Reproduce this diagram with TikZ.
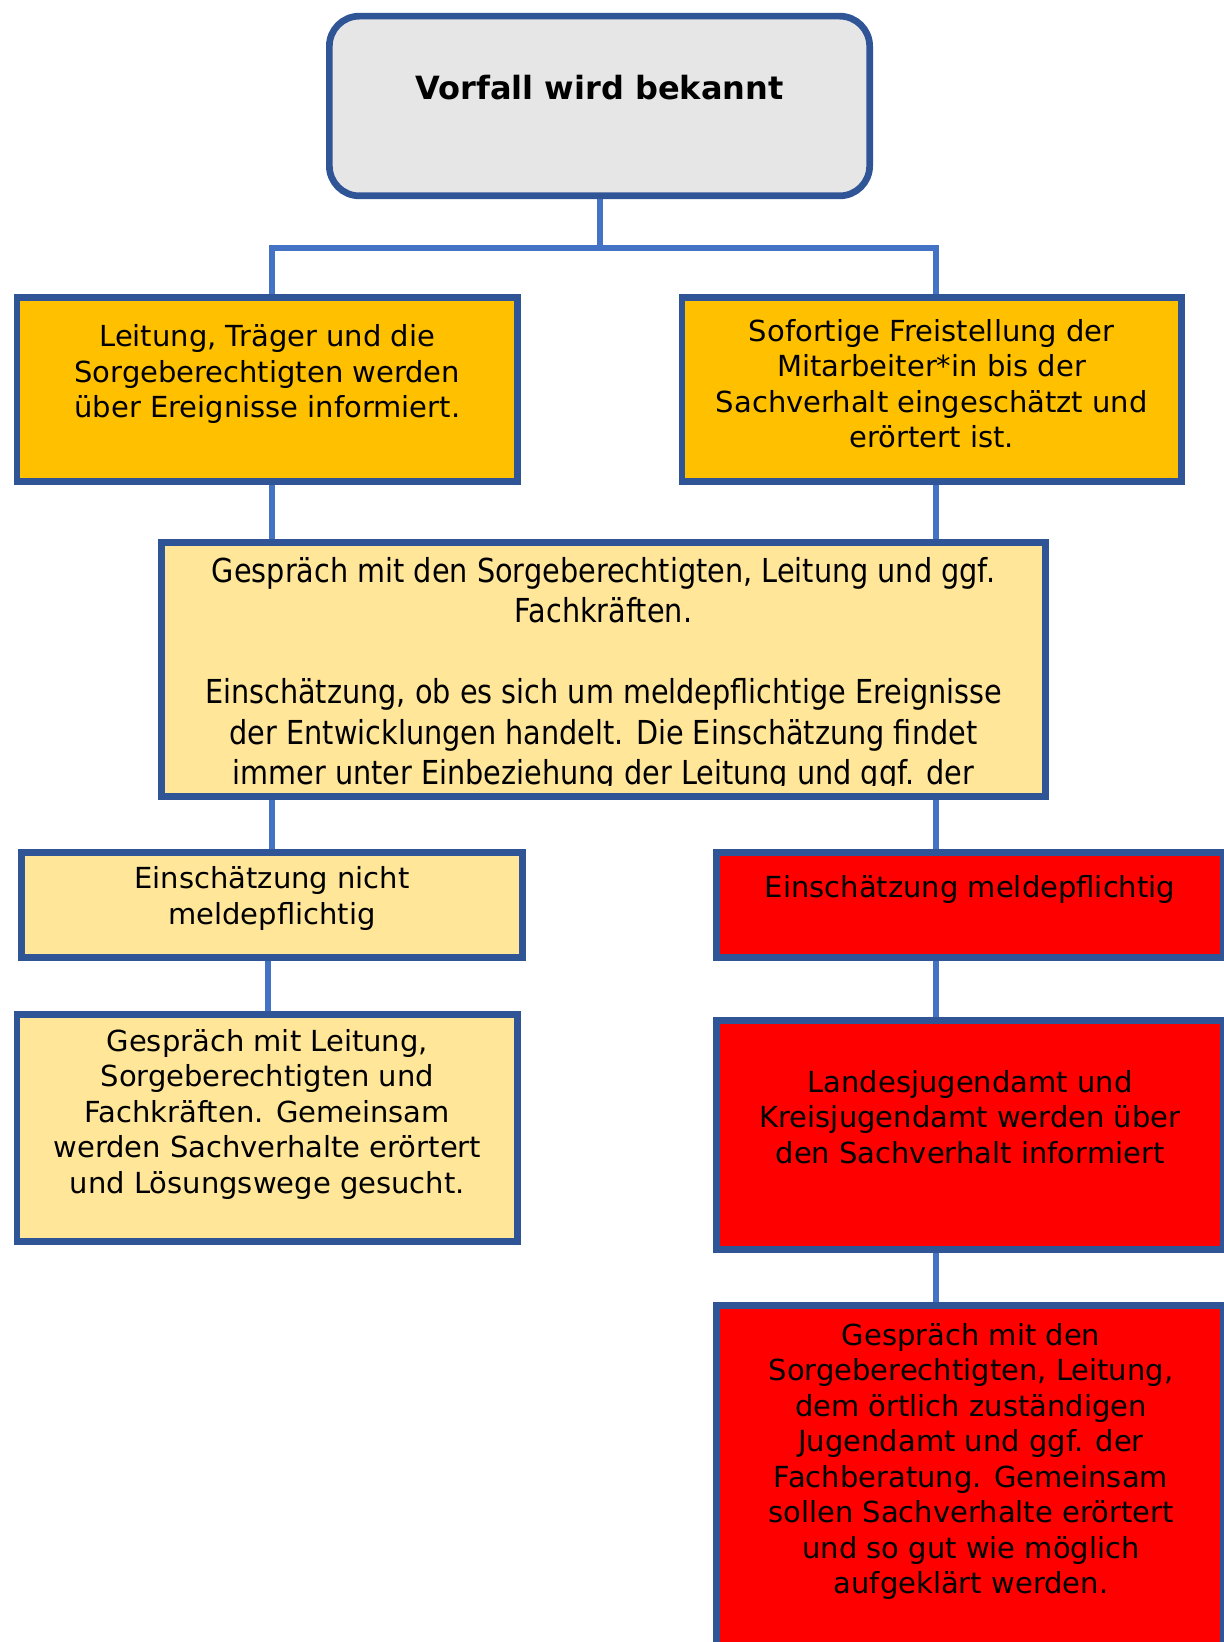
\documentclass[tikz,border=0pt]{standalone}
\usepackage{fontspec}
\setmainfont{DejaVu Sans}
\newfontfamily\condfont[FakeStretch=0.87]{DejaVu Sans}
\usetikzlibrary{calc,backgrounds}

\definecolor{frameblue}{HTML}{2F5597}
\definecolor{linkblue}{HTML}{4472C4}
\definecolor{greyfill}{HTML}{E7E6E6}
\definecolor{orangefill}{HTML}{FFC000}
\definecolor{sandfill}{HTML}{FFE699}
\definecolor{redfill}{HTML}{FF0000}

\begin{document}
\begin{tikzpicture}[x=0.5pt, y=-0.5pt,
		box/.style={draw=frameblue, line width=3.35pt, inner sep=0pt},
		link/.style={draw=linkblue, line width=3pt},
		txt/.style={align=center, inner sep=0pt, font=\fontsize{14.5}{17.75}\selectfont}]
			\useasboundingbox (0,0) rectangle (1223,1642);

			% boxes
			\node[box, fill=greyfill, rounded corners=15pt, minimum width=270.15pt, minimum height=89.85pt] (vorfall) at (599.5,106) {};
			\node[box, fill=orangefill, minimum width=250.35pt, minimum height=92.15pt] (leitung) at (267.3,389.5) {};
			\node[box, fill=orangefill, minimum width=249.9pt, minimum height=92.15pt] (freistellung) at (931.75,389.5) {};
			\node[box, fill=sandfill, minimum width=442.15pt, minimum height=127.15pt] (gespraech) at (603.5,669.5) {};
			\node[box, fill=sandfill, minimum width=250.65pt, minimum height=52.65pt] (nicht) at (272,905) {};
			\node[box, fill=sandfill, minimum width=250.35pt, minimum height=113.65pt] (loesung) at (267.3,1128) {};
			\node[box, fill=redfill, minimum width=253.5pt, minimum height=52.65pt] (melde) at (970,905) {};
			\node[box, fill=redfill, minimum width=253.5pt, minimum height=114.65pt] (jugendamt) at (970,1135) {};
			\node[box, fill=redfill, minimum width=253.5pt, minimum height=195.65pt] (beratung) at (970,1501) {};

			% texts
			\node[txt, font=\bfseries\fontsize{16}{19}\selectfont] (vorfalltxt) at ($(vorfall.center)+(0,-18)$) {Vorfall wird bekannt};
			\node[txt] (leitungtxt) at ($(leitung.center)+(0,-15.5)$) {Leitung, Träger und die\\ Sorgeberechtigten werden\\ über Ereignisse informiert.};
			\node[txt] (freistellungtxt) at ($(freistellung.center)+(0,-6)$) {Sofortige Freistellung der\\ Mitarbeiter*in bis der\\ Sachverhalt eingeschätzt und\\ erörtert ist.};
			\begin{scope}
				\clip ($(gespraech.south west)+(3.35,-15)$) rectangle ($(gespraech.north east)+(-3.35,3.35)$);
				\node[txt, anchor=north, font=\condfont\fontsize{16.5}{20.2}\selectfont] (gespraechtxt) at (603.5,557) {Gespräch mit den Sorgeberechtigten, Leitung und ggf.\\ Fachkräften.\\ \mbox{}\\ Einschätzung, ob es sich um meldepflichtige Ereignisse\\ der Entwicklungen handelt. Die Einschätzung findet\\ immer unter Einbeziehung der Leitung und ggf. der};
			\end{scope}
			\node[txt] (nichttxt) at ($(nicht.center)+(0,-6.5)$) {Einschätzung nicht\\ meldepflichtig};
			\node[txt] (loesungtxt) at ($(loesung.center)+(0,-14)$) {Gespräch mit Leitung,\\ Sorgeberechtigten und\\ Fachkräften. Gemeinsam\\ werden Sachverhalte erörtert\\ und Lösungswege gesucht.};
			\node[txt] (meldetxt) at ($(melde.center)+(0,-16)$) {Einschätzung meldepflichtig};
			\node[txt] (jugendamttxt) at ($(jugendamt.center)+(0,-18)$) {Landesjugendamt und\\ Kreisjugendamt werden über\\ den Sachverhalt informiert};
			\node[txt] (beratungtxt) at (971,1461.5) {Gespräch mit den\\ Sorgeberechtigten, Leitung,\\ dem örtlich zuständigen\\ Jugendamt und ggf. der\\ Fachberatung. Gemeinsam\\ sollen Sachverhalte erörtert\\ und so gut wie möglich\\ aufgeklärt werden.};

			% connectors
			\coordinate (fork) at (599.5,248);
			\coordinate (colL) at (272,0);
			\coordinate (colLL) at (268,0);
			\coordinate (colR) at (936,0);
			\begin{pgfonlayer}{background}
				\draw[link] (vorfall.south) -- (fork) -| (leitung.north -| colL);
				\draw[link] (fork) -| (freistellung.north -| colR);
				\draw[link] (leitung.south -| colL) -- (gespraech.north -| colL);
				\draw[link] (freistellung.south -| colR) -- (gespraech.north -| colR);
				\draw[link] (gespraech.south -| colL) -- (nicht.north -| colL);
				\draw[link] (gespraech.south -| colR) -- (melde.north -| colR);
				\draw[link] (nicht.south -| colLL) -- (loesung.north -| colLL);
				\draw[link] (melde.south -| colR) -- (jugendamt.north -| colR);
				\draw[link] (jugendamt.south -| colR) -- (beratung.north -| colR);
			\end{pgfonlayer}
\end{tikzpicture}
\end{document}
